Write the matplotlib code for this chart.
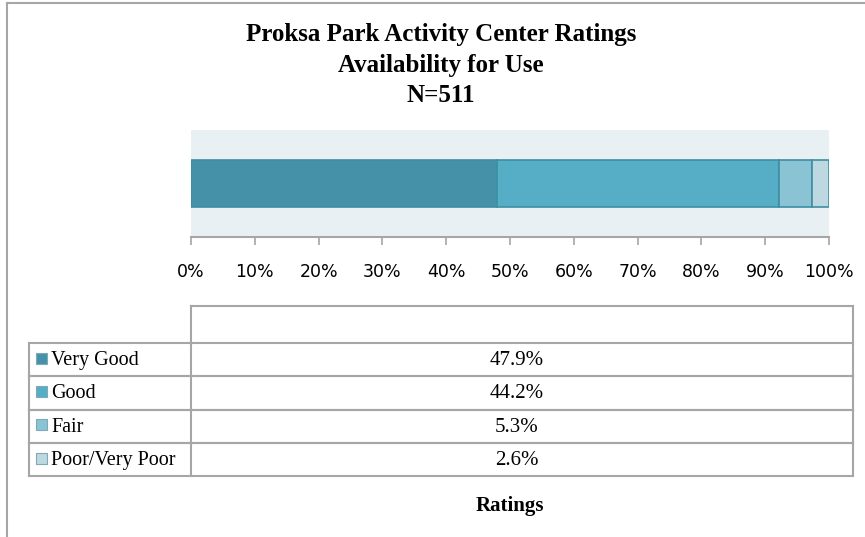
import matplotlib.pyplot as plt
from matplotlib.lines import Line2D
from matplotlib.patches import Rectangle

categories = ["Very Good", "Good", "Fair", "Poor/Very Poor"]
shares = [47.9, 44.2, 5.3, 2.6]
colors = ["#4592A8", "#55AEC6", "#89C3D4", "#BDD8E1"]
tick_values = [0, 10, 20, 30, 40, 50, 60, 70, 80, 90, 100]
title_lines = ["Proksa Park Activity Center Ratings", "Availability for Use", "N=511"]
axis_title = "Ratings"

W, H = 865, 537
serif = ["Liberation Serif", "DejaVu Serif"]
grey = "#A6A6A6"

fig = plt.figure(figsize=(W / 100, H / 100), dpi=100)

# overlay in pixel coordinates for frame, title and the data table
ov = fig.add_axes([0, 0, 1, 1])
ov.set_xlim(0, W)
ov.set_ylim(H, 0)
ov.axis("off")

ov.add_line(Line2D([7, 7], [3, H], color=grey, lw=1.5))
ov.add_line(Line2D([7, W], [3, 3], color=grey, lw=1.5))

for i, line in enumerate(title_lines):
    ov.text(441, 35 + i * 30.5, line, ha="center", va="center",
            fontsize=18, fontweight="bold", family=serif)

# bar chart
ax = fig.add_axes([191 / W, (H - 237) / H, (829 - 191) / W, (237 - 130) / H])
ax.set_facecolor("#E9F0F4")
left = 0
for cat, val, col in zip(categories, shares, colors):
    ax.barh(0, val, left=left, height=0.43, color=col,
            edgecolor="#3D8FA3", linewidth=1.2, label=cat)
    left += val
ax.set_xlim(0, 100)
ax.set_ylim(-0.5, 0.5)
ax.set_yticks([])
ax.set_xticks(tick_values)
ax.set_xticklabels([f"{t}%" for t in tick_values], fontsize=12.5, family="DejaVu Sans")
ax.tick_params(axis="x", length=6, width=1.2, color=grey, pad=13)
for s in ["top", "right", "left"]:
    ax.spines[s].set_visible(False)
ax.spines["bottom"].set_color(grey)
ax.spines["bottom"].set_linewidth(1.5)

# data table below the chart
x0, x1, x2 = 29, 191, 853
header_top, row_top, row_h = 306, 343, 33.3
kw = dict(color=grey, lw=1.5)
ov.add_line(Line2D([x1, x2], [header_top, header_top], **kw))
ov.add_line(Line2D([x1, x1], [header_top, row_top], **kw))
ov.add_line(Line2D([x2, x2], [header_top, row_top], **kw))
for i, (cat, val, col) in enumerate(zip(categories, shares, colors)):
    top = row_top + i * row_h
    bot = top + row_h
    ov.add_line(Line2D([x0, x2], [top, top], **kw))
    ov.add_line(Line2D([x0, x2], [bot, bot], **kw))
    for xx in (x0, x1, x2):
        ov.add_line(Line2D([xx, xx], [top, bot], **kw))
    cy = (top + bot) / 2
    ov.add_patch(Rectangle((36, cy - 7), 11, 11, facecolor=col,
                           edgecolor="#7FA9B5", lw=0.8))
    ov.text(51, cy + 1, cat, ha="left", va="center", fontsize=14.5, family=serif)
    ov.text(517, cy + 1, f"{val:.1f}%", ha="center", va="center",
            fontsize=15, family=serif)

ov.text(510, 506, axis_title, ha="center", va="center", fontsize=15,
        fontweight="bold", family=serif)

fig.savefig("out.png", dpi=100)
